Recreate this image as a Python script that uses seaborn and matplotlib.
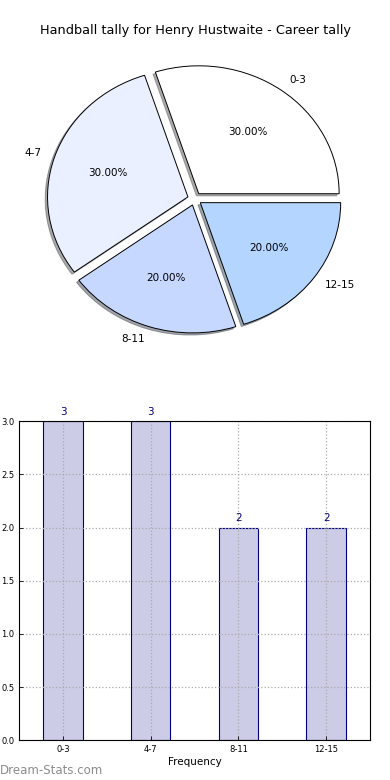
import matplotlib
matplotlib.use("Agg")
import matplotlib.pyplot as plt
import seaborn as sns
import pandas as pd

title = "Handball tally for Henry Hustwaite - Career tally"
categories = ["0-3", "4-7", "8-11", "12-15"]
counts = [3, 3, 2, 2]
pie_colors = ["#FFFFFF", "#EAF0FF", "#C6D8FF", "#B3D5FF"]

sns.set_style("white")
plt.rcParams["font.family"] = ["DejaVu Sans"]
plt.rcParams["text.color"] = "black"
plt.rcParams["axes.labelcolor"] = "black"
plt.rcParams["xtick.color"] = "black"
plt.rcParams["ytick.color"] = "black"

fig = plt.figure(figsize=(3.9, 7.8), dpi=100)

# pie on top
ax1 = fig.add_axes([0.049, 0.54, 0.9, 0.41])
ax1.pie(counts, labels=categories, colors=pie_colors, explode=[0.05] * 4,
        autopct="%1.2f%%", shadow={"ox": -0.012, "oy": -0.012, "shade": 0.65},
        startangle=0, counterclock=True,
        wedgeprops={"edgecolor": "black", "linewidth": 0.7},
        textprops={"fontsize": 7.5, "color": "black"})
ax1.set_aspect("auto")
ax1.set_xlim(-1.25, 1.25)
ax1.set_ylim(-1.25, 1.25)
ax1.axis("off")
fig.text(0.5, 0.961, title, ha="center", va="center", fontsize=9.3, color="black")

# bar chart below
ax2 = fig.add_axes([0.049, 0.051, 0.9, 0.409])
df = pd.DataFrame({"range": categories, "count": counts})
sns.barplot(data=df, x="range", y="count", ax=ax2, color="#CCCCE6", saturation=1,
            width=0.45, edgecolor="navy", linewidth=0.8)
ax2.set_xlim(-0.5, 3.5)
ax2.set_ylim(0, 3)
ax2.set_yticks([0, 0.5, 1.0, 1.5, 2.0, 2.5, 3.0])
ax2.set_yticklabels([f"{v:.1f}" for v in ax2.get_yticks()])
ax2.tick_params(labelsize=6, direction="in", length=3, width=0.6, left=True, bottom=True)
ax2.grid(True, linestyle=":", color="#aaaaaa", linewidth=0.9)
ax2.set_axisbelow(False)
ax2.set_xlabel("Frequency", fontsize=7.5, labelpad=2)
ax2.set_ylabel("")
for spine in ax2.spines.values():
    spine.set_color("black")
    spine.set_linewidth(0.8)
    spine.set_zorder(5)
for i, v in enumerate(counts):
    ax2.text(i, v + 0.04, str(v), ha="center", va="bottom", fontsize=7.5, color="navy")

fig.text(0.0, 0.012, "Dream-Stats.com", ha="left", va="center", fontsize=8.5,
         color="#8c8c8c")

fig.savefig("out.png", dpi=100)
